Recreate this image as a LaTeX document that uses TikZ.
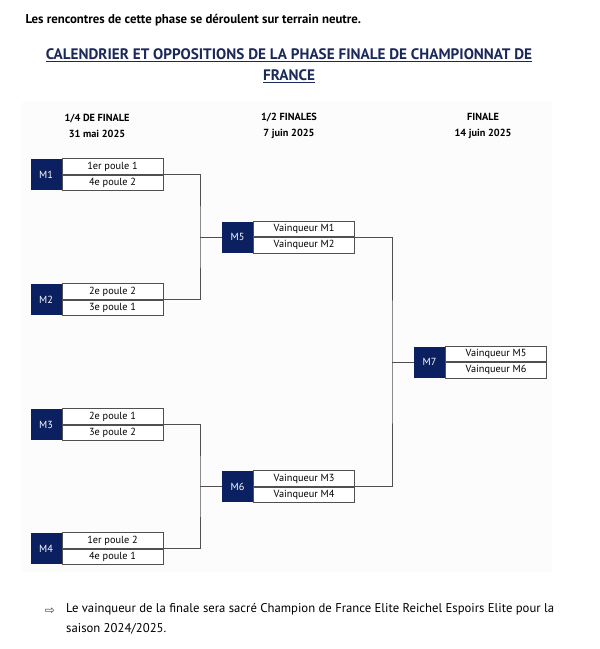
\documentclass[tikz,border=0pt]{standalone}
\usepackage{fontspec}
\setmainfont{PT Sans}
\newfontfamily\symbfont{DejaVu Sans}
\usetikzlibrary{positioning}
\definecolor{ffbleu}{RGB}{10,32,96}
\definecolor{titrebleu}{RGB}{27,40,90}
\definecolor{trait}{RGB}{80,80,80}
\definecolor{fond}{RGB}{252,252,252}

\begin{document}
\begin{tikzpicture}[x=1pt,y=-1pt,
    tag/.style={fill=ffbleu,text=white,minimum width=31pt,minimum height=31pt,
        inner sep=0pt,font=\fontsize{10.3}{12}\selectfont},
    team/.style={draw=trait,fill=white,line width=0.7pt,minimum width=101pt,
        minimum height=15.5pt,inner sep=0pt,font=\fontsize{10.3}{12}\selectfont},
    link/.style={draw=trait,line width=0.7pt},
    head/.style={font=\bfseries\fontsize{10.3}{16}\selectfont,align=center},
    titre/.style={font=\bfseries\fontsize{15.2}{18}\selectfont,text=titrebleu}]
\useasboundingbox (0,0) rectangle (600,649);
\fill[fond] (22,102) rectangle (552,572);

% textes du haut
\node[anchor=west,font=\bfseries\fontsize{12.8}{14}\selectfont] (intro) at (22,20)
    {Les rencontres de cette phase se déroulent sur terrain neutre.};
\node[titre] (titre1) at (289,55)
    {\underline{CALENDRIER ET OPPOSITIONS DE LA PHASE FINALE DE CHAMPIONNAT DE}};
\node[titre] (titre2) at (289,76) {\underline{FRANCE}};

% tours
\node[head] (tour1) at (97,126) {1/4 DE FINALE\\31 mai 2025};
\node[head] (tour2) at (289,126) {1/2 FINALES\\7 juin 2025};
\node[head] (tour3) at (483,126) {FINALE\\14 juin 2025};

% quarts
\node[tag] (m1) at (46,174.5) {M1};
\node[team,anchor=south west] (m1a) at (m1.east) {1er poule 1};
\node[team,anchor=north west] (m1b) at (m1.east) {4e poule 2};
\node[tag] (m2) at (46,299.5) {M2};
\node[team,anchor=south west] (m2a) at (m2.east) {2e poule 2};
\node[team,anchor=north west] (m2b) at (m2.east) {3e poule 1};
\node[tag] (m3) at (46,424.5) {M3};
\node[team,anchor=south west] (m3a) at (m3.east) {2e poule 1};
\node[team,anchor=north west] (m3b) at (m3.east) {3e poule 2};
\node[tag] (m4) at (46,548.5) {M4};
\node[team,anchor=south west] (m4a) at (m4.east) {1er poule 2};
\node[team,anchor=north west] (m4b) at (m4.east) {4e poule 1};

% demies
\node[tag] (m5) at (237.5,237) {M5};
\node[team,anchor=south west] (m5a) at (m5.east) {Vainqueur M1};
\node[team,anchor=north west] (m5b) at (m5.east) {Vainqueur M2};
\node[tag] (m6) at (237.5,486.5) {M6};
\node[team,anchor=south west] (m6a) at (m6.east) {Vainqueur M3};
\node[team,anchor=north west] (m6b) at (m6.east) {Vainqueur M4};

% finale
\node[tag] (m7) at (429.5,362) {M7};
\node[team,anchor=south west] (m7a) at (m7.east) {Vainqueur M5};
\node[team,anchor=north west] (m7b) at (m7.east) {Vainqueur M6};

% liaisons
\coordinate (j1) at (200,237);
\coordinate (j2) at (200,486.5);
\coordinate (j3) at (392,362);
\draw[link] (m1a.south east) -| (j1) |- (m2a.south east);
\draw[link] (j1) -- (m5.west);
\draw[link] (m3a.south east) -| (j2) |- (m4a.south east);
\draw[link] (j2) -- (m6.west);
\draw[link] (m5a.south east) -| (j3) |- (m6a.south east);
\draw[link] (j3) -- (m7.west);

% note finale
\node[font=\symbfont\fontsize{12}{12}\selectfont,text=black!75] (fleche) at (50,611) {⇨};
\node[anchor=north west,align=left,inner sep=0pt,font=\fontsize{12.7}{20}\selectfont] (note) at (66,603)
    {Le vainqueur de la finale sera sacré Champion de France Elite Reichel Espoirs Elite pour la\\
    saison 2024/2025.};
\end{tikzpicture}
\end{document}
